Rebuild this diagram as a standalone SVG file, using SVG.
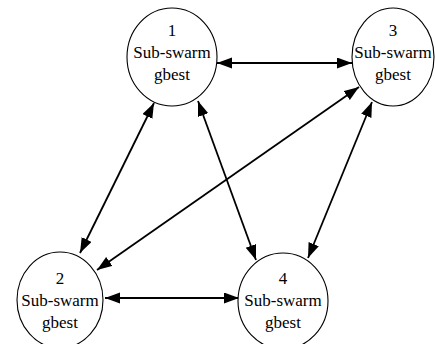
<svg xmlns="http://www.w3.org/2000/svg" width="435" height="344" viewBox="0 0 435 344">
<style>
.node{fill:#fff;stroke:#000;stroke-width:1.1}
.lbl{font-family:"Liberation Serif","Times New Roman",serif;font-size:17px;fill:#000;text-anchor:middle}
.edge{stroke:#000;stroke-width:1.8;fill:none;marker-start:url(#ah);marker-end:url(#ah)}
</style>
<defs>
<marker id="ah" markerUnits="userSpaceOnUse" markerWidth="16" markerHeight="12" refX="15" refY="5.5" orient="auto-start-reverse">
<path d="M0,0 L15,5.5 L0,11 Z" fill="#000"/>
</marker>
</defs>
<rect width="435" height="344" fill="#fff"/>
<g id="connectors">
<line class="edge" x1="217" y1="63" x2="352" y2="63"/>
<line class="edge" x1="154" y1="103" x2="80" y2="253"/>
<line class="edge" x1="198" y1="101" x2="256" y2="260"/>
<line class="edge" x1="359" y1="87" x2="97" y2="270"/>
<line class="edge" x1="372" y1="102" x2="308" y2="258"/>
<line class="edge" x1="105" y1="298" x2="239" y2="298"/>
</g>
<g id="node1">
<ellipse class="node" cx="172" cy="57" rx="45" ry="49"/>
<text class="lbl" x="172" y="36">1</text>
<text class="lbl" x="172" y="58">Sub-swarm</text>
<text class="lbl" x="172" y="80">gbest</text>
</g>
<g id="node3">
<ellipse class="node" cx="393" cy="57" rx="41" ry="49"/>
<text class="lbl" x="393" y="36">3</text>
<text class="lbl" x="393" y="58">Sub-swarm</text>
<text class="lbl" x="393" y="80">gbest</text>
</g>
<g id="node2">
<ellipse class="node" cx="60" cy="300" rx="43" ry="48"/>
<text class="lbl" x="60" y="284">2</text>
<text class="lbl" x="60" y="306">Sub-swarm</text>
<text class="lbl" x="60" y="328">gbest</text>
</g>
<g id="node4">
<ellipse class="node" cx="283" cy="301" rx="45" ry="48"/>
<text class="lbl" x="283" y="284">4</text>
<text class="lbl" x="283" y="306">Sub-swarm</text>
<text class="lbl" x="283" y="328">gbest</text>
</g>
</svg>
